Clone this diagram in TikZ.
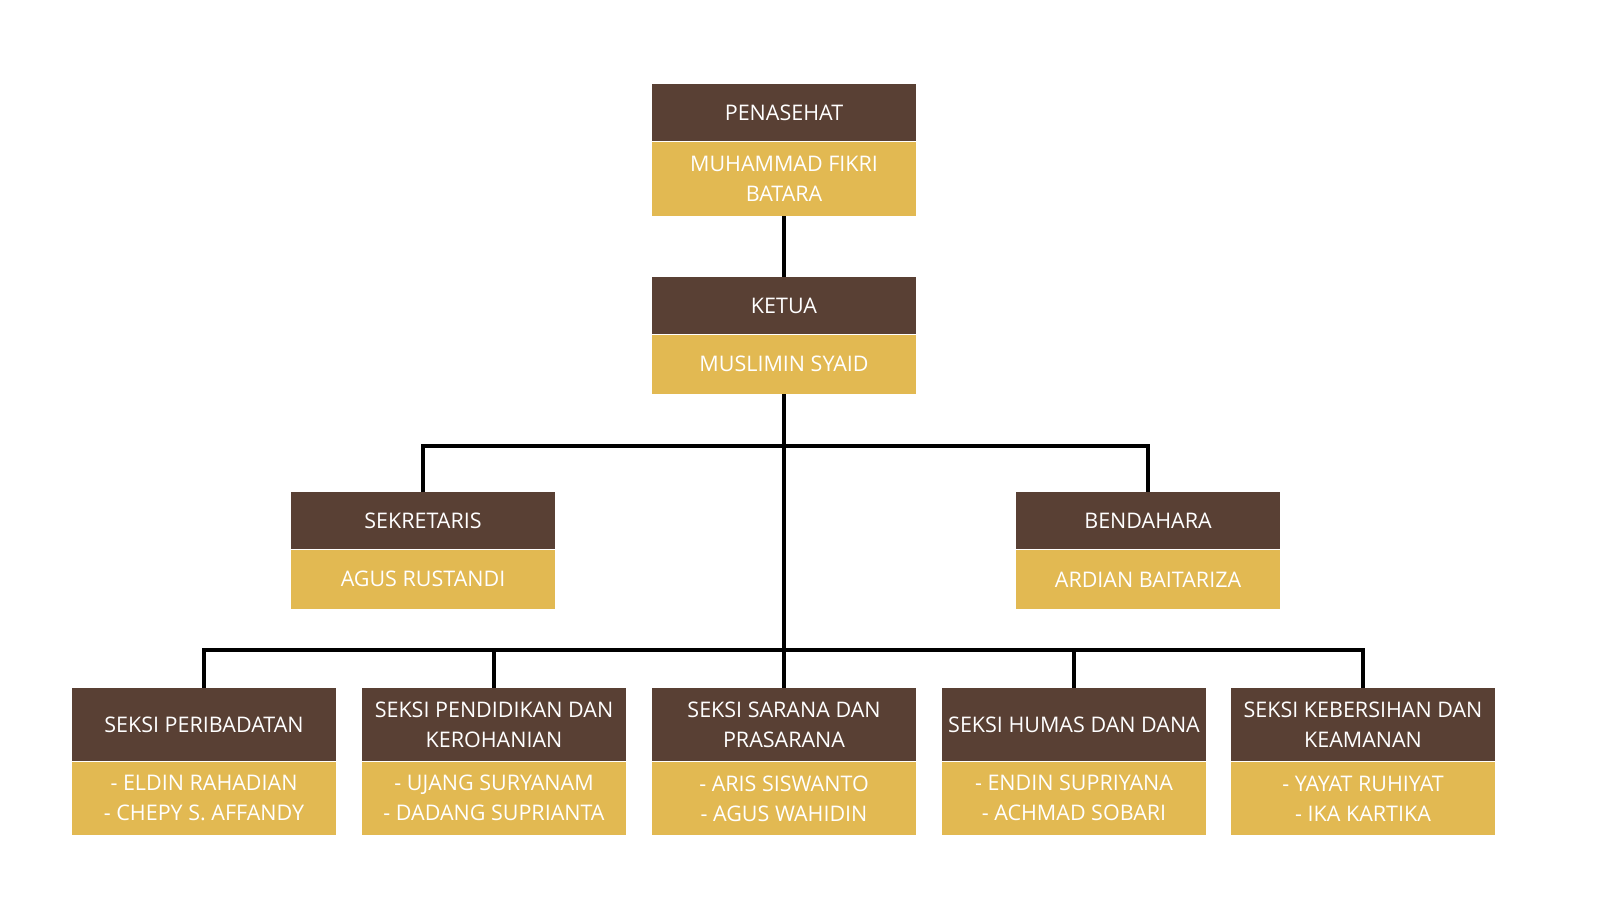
\documentclass[tikz,border=0pt]{standalone}
\usepackage{fontspec}
\setmainfont{Open Sans}
\usetikzlibrary{positioning}
\definecolor{brownbox}{HTML}{594034}
\definecolor{goldbox}{HTML}{E2B952}

\begin{document}
\begin{tikzpicture}[x=0.5pt,y=-0.5pt,
  titlebox/.style={fill=brownbox,text=white,minimum width=132pt,minimum height=#1,inner sep=0pt,align=center,font=\fontsize{10.75}{15}\selectfont},
  titlebox/.default=28.5pt,
  namebox/.style={fill=goldbox,text=white,minimum width=132pt,minimum height=#1,inner sep=0pt,align=center,font=\fontsize{10.75}{15}\selectfont},
  link/.style={line width=2pt}]
\useasboundingbox (0,0) rectangle (1600,899);
% pengurus inti
\node[titlebox] (penasehat) at (784,112.5) {PENASEHAT};
\node[namebox=37pt, below=0pt of penasehat] (penasehatnm) {MUHAMMAD FIKRI\\BATARA};
\node[titlebox] (ketua) at (784,305.5) {KETUA};
\node[namebox=29.5pt, below=0pt of ketua] (ketuanm) {MUSLIMIN SYAID};
\node[titlebox] (sekretaris) at (423,520.5) {SEKRETARIS};
\node[namebox=29.5pt, below=0pt of sekretaris] (sekretarisnm) {AGUS RUSTANDI};
\node[titlebox] (bendahara) at (1148,520.5) {BENDAHARA};
\node[namebox=29.5pt, below=0pt of bendahara] (bendaharanm) {ARDIAN BAITARIZA};
% seksi-seksi
\node[titlebox=36.5pt] (ibadah) at (204,724.5) {SEKSI PERIBADATAN};
\node[namebox=36.5pt, below=0pt of ibadah] (ibadahnm) {- ELDIN RAHADIAN\\- CHEPY S. AFFANDY};
\node[titlebox=36.5pt] (didik) at (494,724.5) {SEKSI PENDIDIKAN DAN\\KEROHANIAN};
\node[namebox=36.5pt, below=0pt of didik] (didiknm) {- UJANG SURYANAM\\- DADANG SUPRIANTA};
\node[titlebox=36.5pt] (sarana) at (784,724.5) {SEKSI SARANA DAN\\PRASARANA};
\node[namebox=36.5pt, below=0pt of sarana] (sarananm) {- ARIS SISWANTO\\- AGUS WAHIDIN};
\node[titlebox=36.5pt] (humas) at (1074,724.5) {SEKSI HUMAS DAN DANA};
\node[namebox=36.5pt, below=0pt of humas] (humasnm) {- ENDIN SUPRIYANA\\- ACHMAD SOBARI};
\node[titlebox=36.5pt] (bersih) at (1363,724.5) {SEKSI KEBERSIHAN DAN\\KEAMANAN};
\node[namebox=36.5pt, below=0pt of bersih] (bersihnm) {- YAYAT RUHIYAT\\- IKA KARTIKA};
% garis
\coordinate (barinti) at (784,446);
\coordinate (barseksi) at (784,650);
\draw[link] (penasehatnm.south) -- (ketua.north);
\draw[link] (ketuanm.south) -- (sarana.north);
\draw[link] (sekretaris.north) |- (barinti) -| (bendahara.north);
\draw[link] (ibadah.north) |- (barseksi) -| (bersih.north);
\draw[link] (didik.north) |- (barseksi);
\draw[link] (humas.north) |- (barseksi);
\end{tikzpicture}
\end{document}
